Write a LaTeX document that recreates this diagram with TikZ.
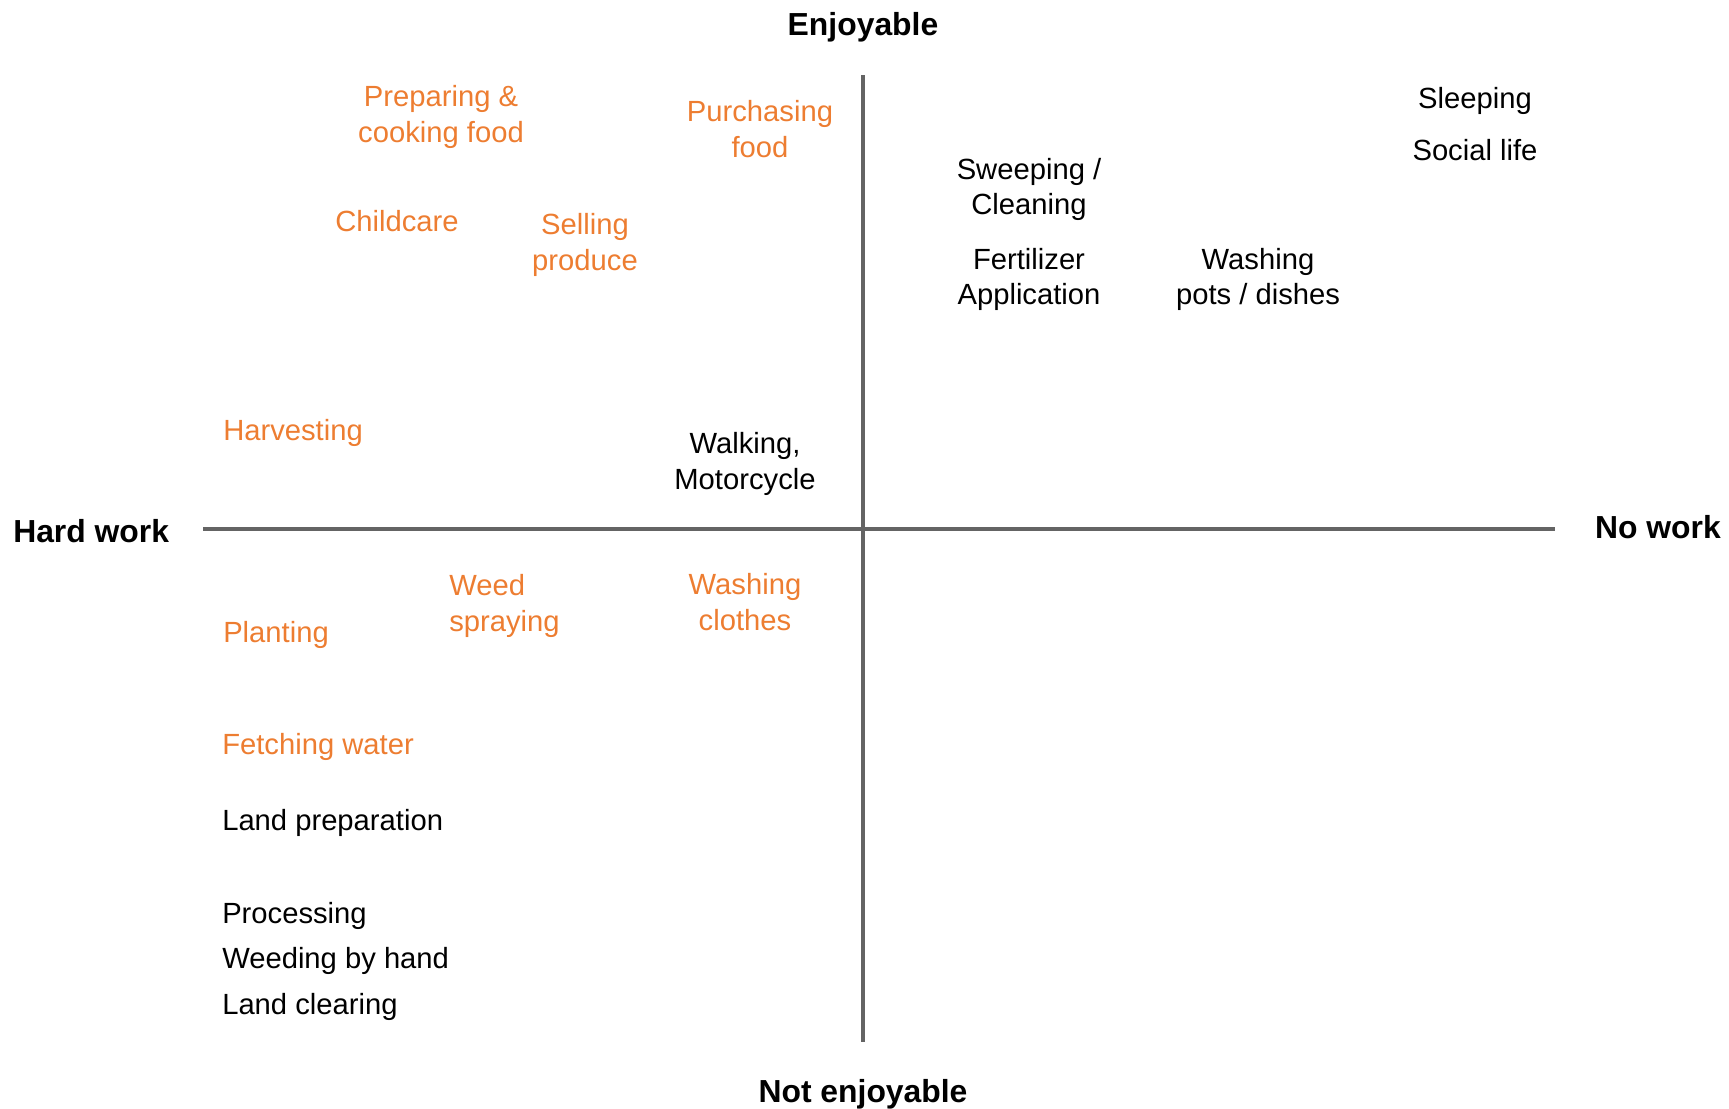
\documentclass[tikz,border=0pt]{standalone}
\usepackage{fontspec}
\setmainfont{Liberation Sans}
\definecolor{acc}{HTML}{ED7D31}
\definecolor{axisgray}{HTML}{646464}
\begin{document}
\begin{tikzpicture}[x=0.75pt,y=-0.75pt,
  lbl/.style={font=\fontsize{21.9}{26.3}\selectfont, inner sep=0pt, align=center, anchor=base},
  lblL/.style={lbl, align=left, anchor=base west},
  hot/.style={text=acc},
  cold/.style={text=black},
  ttl/.style={font=\fontsize{23.9}{28}\selectfont\bfseries, inner sep=0pt, anchor=base},
  axis/.style={draw=axisgray, line width=2.6pt}]
\useasboundingbox (0,0) rectangle (1729,1108);
% axes
\coordinate (top) at (863,75);
\coordinate (bot) at (863,1042);
\coordinate (left) at (203,529);
\coordinate (right) at (1555,529);
\draw[axis] (left) -- (right);
\draw[axis] (top) -- (bot);
% titles
\node[ttl] (enj) at (863,35) {Enjoyable};
\node[ttl] (notenj) at (863,1102) {Not enjoyable};
\node[ttl, anchor=base west] (hard) at (13,542) {Hard work};
\node[ttl, anchor=base east] (nowork) at (1721,538) {No work};
% orange labels (two-line nodes: base = last line)
\node[lbl, hot] (prep) at (441,142) {Preparing \&\\cooking food};
\node[lbl, hot] (purch) at (760,157) {Purchasing\\food};
\node[lbl, hot] (child) at (397,231) {Childcare};
\node[lbl, hot] (sell) at (585,270) {Selling\\produce};
\node[lblL, hot] (harv) at (223,440) {Harvesting};
\node[lblL, hot] (plant) at (223,642) {Planting};
\node[lblL, hot] (weed) at (449,631) {Weed\\spraying};
\node[lbl, hot] (washc) at (745,630) {Washing\\clothes};
\node[lblL, hot] (fetch) at (222,754) {Fetching water};
% black labels
\node[lbl, cold] (sleep) at (1475,108) {Sleeping};
\node[lbl, cold] (social) at (1475,160) {Social life};
\node[lbl, cold] (sweep) at (1029,214.5) {Sweeping /\\Cleaning};
\node[lbl, cold] (fert) at (1029,304.5) {Fertilizer\\Application};
\node[lbl, cold] (washp) at (1258,304.5) {Washing\\pots / dishes};
\node[lbl, cold] (walk) at (745,489) {Walking,\\Motorcycle};
\node[lblL, cold] (landprep) at (222,830) {Land preparation};
\node[lblL, cold] (proc) at (222,923) {Processing};
\node[lblL, cold] (weedh) at (222,968) {Weeding by hand};
\node[lblL, cold] (landclear) at (222,1014) {Land clearing};
\end{tikzpicture}
\end{document}
